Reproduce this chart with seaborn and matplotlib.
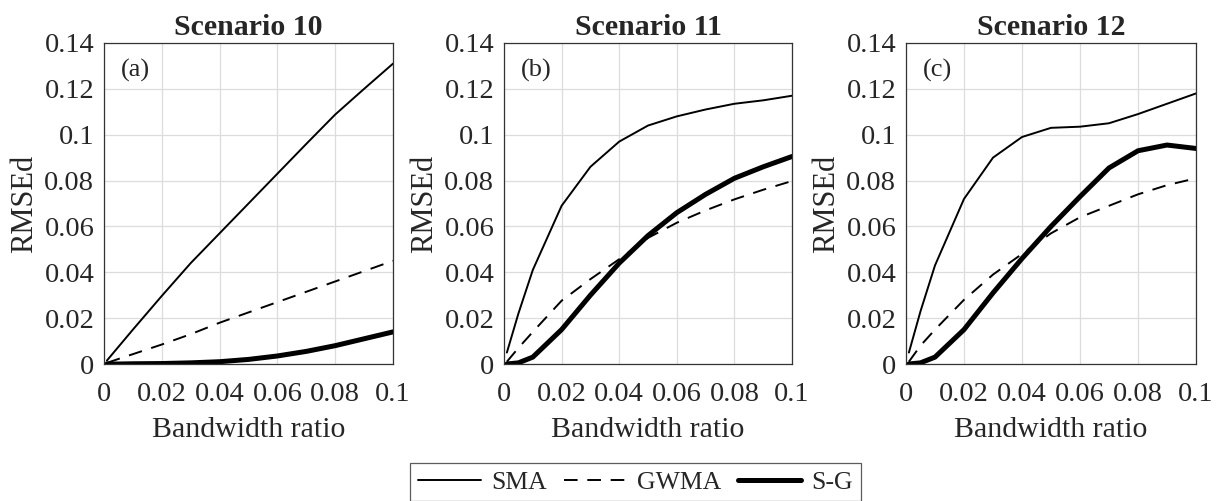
import matplotlib
matplotlib.use("Agg")
import matplotlib.pyplot as plt
import seaborn as sns
import pandas as pd

# Bandwidth ratios at which each smoother was evaluated
bandwidth = [0.001, 0.005, 0.01, 0.02, 0.03, 0.04, 0.05, 0.06, 0.07, 0.08, 0.09, 0.1]

scenarios = ["Scenario 10", "Scenario 11", "Scenario 12"]
panel_tags = ["(a)", "(b)", "(c)"]

# RMSEd for each smoother, per scenario
sma_s10 = [0.0015, 0.0075, 0.015, 0.0297, 0.044, 0.057, 0.070, 0.083, 0.096, 0.1088, 0.120, 0.131]
gwma_s10 = [0.0005, 0.0022, 0.0043, 0.0085, 0.013, 0.018, 0.0225, 0.027, 0.0315, 0.036, 0.0405, 0.045]
sg_s10 = [0.0, 0.0, 0.0001, 0.0002, 0.0005, 0.001, 0.002, 0.0035, 0.0055, 0.008, 0.011, 0.014]

sma_s11 = [0.005, 0.022, 0.041, 0.069, 0.086, 0.097, 0.104, 0.108, 0.111, 0.1135, 0.115, 0.117]
gwma_s11 = [0.001, 0.007, 0.014, 0.0276, 0.037, 0.0457, 0.055, 0.0616, 0.067, 0.0718, 0.076, 0.0798]
sg_s11 = [0.0, 0.0005, 0.003, 0.015, 0.030, 0.044, 0.056, 0.066, 0.074, 0.081, 0.086, 0.0905]

sma_s12 = [0.005, 0.023, 0.043, 0.072, 0.090, 0.099, 0.103, 0.1035, 0.105, 0.109, 0.1135, 0.118]
gwma_s12 = [0.001, 0.008, 0.015, 0.028, 0.039, 0.048, 0.057, 0.064, 0.069, 0.074, 0.078, 0.081]
sg_s12 = [0.0, 0.0005, 0.003, 0.015, 0.031, 0.046, 0.060, 0.073, 0.0855, 0.093, 0.0955, 0.094]

methods = ["SMA", "GWMA", "S-G"]
values = {
    "Scenario 10": [sma_s10, gwma_s10, sg_s10],
    "Scenario 11": [sma_s11, gwma_s11, sg_s11],
    "Scenario 12": [sma_s12, gwma_s12, sg_s12],
}

x_ticks = [0, 0.02, 0.04, 0.06, 0.08, 0.1]
x_tick_labels = ["0", "0.02", "0.04", "0.06", "0.08", "0.1"]
y_ticks = [0, 0.02, 0.04, 0.06, 0.08, 0.1, 0.12, 0.14]
y_tick_labels = ["0", "0.02", "0.04", "0.06", "0.08", "0.1", "0.12", "0.14"]

rows = []
for sc in scenarios:
    for m, series in zip(methods, values[sc]):
        for x, y in zip(bandwidth, series):
            rows.append({"scenario": sc, "method": m, "bandwidth": x, "rmsed": y})
df = pd.DataFrame(rows)

sns.set_theme(style="white")
plt.rcParams["font.family"] = ["Liberation Serif", "DejaVu Serif"]

line_widths = {"SMA": 1.4, "GWMA": 1.4, "S-G": 3.6}
dash_map = {"SMA": "", "GWMA": (7, 5), "S-G": ""}

fig = plt.figure(figsize=(12.16, 5.01), dpi=100)
W, H = 1216, 501
lefts = [104, 504, 906]
rights = [393, 792, 1196]
top_px, bottom_px = 43, 364

axes = []
for i, sc in enumerate(scenarios):
    ax = fig.add_axes([lefts[i] / W, 1 - bottom_px / H,
                       (rights[i] - lefts[i]) / W, (bottom_px - top_px) / H])
    axes.append(ax)
    sub = df[df["scenario"] == sc]
    sns.lineplot(
        data=sub, x="bandwidth", y="rmsed", style="method", hue="method",
        palette={m: "black" for m in methods}, dashes=dash_map,
        style_order=methods, hue_order=methods, size="method",
        sizes=line_widths, ax=ax, legend=(i == 0),
    )
    ax.set_xlim(0, 0.1)
    ax.set_ylim(0, 0.14)
    ax.set_xticks(x_ticks)
    ax.set_xticklabels(x_tick_labels)
    ax.set_yticks(y_ticks)
    ax.set_yticklabels(y_tick_labels)
    ax.tick_params(labelsize=20.5, length=0)
    ax.tick_params(axis="x", pad=13)
    ax.tick_params(axis="y", pad=7)
    ax.grid(True, color="#dcdcdc", linewidth=0.9)
    for sp in ax.spines.values():
        sp.set_color("#333333")
        sp.set_linewidth(0.9)
    ax.set_xlabel("Bandwidth ratio", fontsize=21.5, labelpad=7)
    ax.set_ylabel("RMSEd", fontsize=22, labelpad=4)
    ax.set_title(sc, fontsize=21.5, fontweight="bold", pad=6)
    ax.text(0.058, 0.915, panel_tags[i], transform=ax.transAxes, fontsize=19,
            ha="left", va="center")

handles, labels = axes[0].get_legend_handles_labels()
axes[0].get_legend().remove()
pairs = [(h, l) for h, l in zip(handles, labels) if l in methods]
leg = fig.legend(
    [p[0] for p in pairs], [p[1] for p in pairs],
    loc="upper center", bbox_to_anchor=(635.5 / W, 1 - 463 / H), ncol=3,
    fontsize=18.5, frameon=True, fancybox=False, edgecolor="#333333",
    handlelength=2.45, handletextpad=0.4, columnspacing=0.65, borderpad=0.3,
    borderaxespad=0,
)
leg.get_frame().set_linewidth(0.9)

fig.savefig("out.png", dpi=100)
